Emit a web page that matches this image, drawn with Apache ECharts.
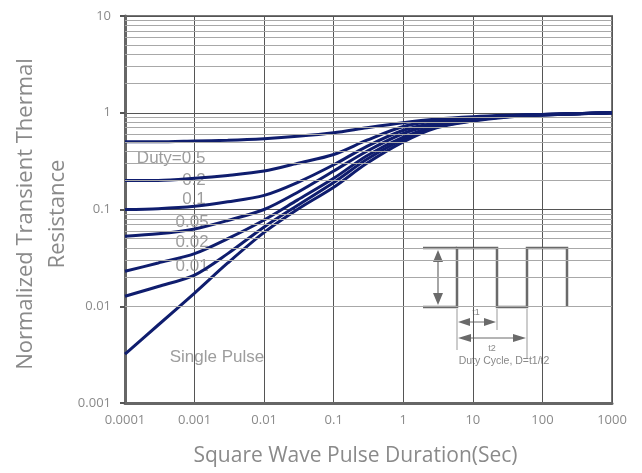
<!DOCTYPE html>
<html>
<head>
<meta charset="utf-8">
<script src="https://cdn.jsdelivr.net/npm/echarts@6/dist/echarts.min.js"></script>
<style>
  html, body { margin: 0; padding: 0; background: #fff; }
  #chart { width: 642px; height: 473px; }
</style>
</head>
<body>
<div id="chart"></div>
<script>
// pulse durations (sec)
var durations = [0.0001, 0.0003, 0.001, 0.003, 0.01, 0.03, 0.1, 0.3, 1, 3, 10, 30, 100, 1000];

// normalized transient thermal resistance per duty cycle
var duty05 = [0.50, 0.50, 0.51, 0.52, 0.54, 0.57, 0.62, 0.70, 0.79, 0.86, 0.91, 0.94, 0.96, 1.0];
var duty02 = [0.20, 0.20, 0.21, 0.225, 0.25, 0.30, 0.37, 0.52, 0.72, 0.83, 0.89, 0.93, 0.96, 1.0];
var duty01 = [0.10, 0.102, 0.108, 0.12, 0.14, 0.19, 0.29, 0.45, 0.66, 0.79, 0.88, 0.93, 0.96, 1.0];
var duty005 = [0.053, 0.056, 0.063, 0.077, 0.10, 0.15, 0.25, 0.40, 0.61, 0.76, 0.86, 0.92, 0.96, 1.0];
var duty002 = [0.023, 0.028, 0.035, 0.050, 0.078, 0.125, 0.21, 0.36, 0.56, 0.73, 0.84, 0.91, 0.95, 1.0];
var duty001 = [0.0127, 0.016, 0.021, 0.035, 0.066, 0.11, 0.19, 0.33, 0.53, 0.71, 0.83, 0.91, 0.95, 1.0];
var singlePulse = [0.0032, 0.0064, 0.0137, 0.028, 0.058, 0.10, 0.17, 0.30, 0.50, 0.70, 0.82, 0.90, 0.95, 1.0];

// curve labels: [x, y, text]
var curveLabels = [
    [0.00046, 0.34, 'Duty=0.5'],
    [0.00098, 0.2, '0.2'],
    [0.00098, 0.127, '0.1'],
    [0.00092, 0.0735, '0.05'],
    [0.00092, 0.046, '0.02'],
    [0.00092, 0.0258, '0.01'],
    [0.0021, 0.003, 'Single Pulse']
];

var decades = [0.001, 0.01, 0.1, 1];

var minorValues = [];
decades.forEach(function (d) {
    for (var k = 2; k <= 9; k++) {
        minorValues.push(+(k * d).toPrecision(2));
    }
});

function pairs(ys) {
    return durations.map(function (x, i) { return [x, ys[i]]; });
}

var curveColor = '#0f1d6e';

function curve(name, ys) {
    return {
        name: name,
        type: 'line',
        data: pairs(ys),
        smooth: 0.3,
        showSymbol: false,
        z: 4,
        lineStyle: { color: curveColor, width: 3 }
    };
}

var arrowGray = '#6a6a6a';

var myChart = echarts.init(document.getElementById('chart'));
myChart.setOption({
    animation: false,
    grid: {
        left: 125, right: 30, top: 16, bottom: 70,
        outerBoundsMode: 'none',
        containLabel: false,
        show: true, borderColor: '#777', borderWidth: 2, backgroundColor: '#fff'
    },
    xAxis: {
        type: 'log',
        logBase: 10,
        min: 0.0001,
        max: 1000,
        name: 'Square Wave Pulse Duration(Sec)',
        nameLocation: 'middle',
        nameGap: 43,
        nameTextStyle: { color: '#8a8a8a', fontSize: 21, fontFamily: 'Open Sans', padding: [0, 26, 0, 0] },
        axisLine: { show: true, onZero: false, lineStyle: { color: '#666', width: 3 } },
        axisTick: { show: false },
        axisLabel: {
            color: '#8a8a8a', fontSize: 13, fontFamily: 'Open Sans', margin: 11,
            formatter: function (v) { return String(+v.toPrecision(1)); }
        },
        splitLine: { show: true, lineStyle: { color: '#555', width: 1 } }
    },
    yAxis: {
        type: 'log',
        logBase: 10,
        min: 0.001,
        max: 10,
        axisLine: { show: true, onZero: false, lineStyle: { color: '#666', width: 3 } },
        axisTick: { show: true, length: 5, lineStyle: { color: '#555', width: 2 } },
        axisLabel: {
            color: '#8a8a8a', fontSize: 13, fontFamily: 'Open Sans', margin: 14,
            formatter: function (v) { return String(+v.toPrecision(1)); }
        },
        splitLine: { show: true, lineStyle: { color: '#555', width: 1 } }
    },
    series: [
        {
            name: 'minor',
            type: 'line',
            data: [],
            z: 1,
            markLine: {
                silent: true,
                symbol: 'none',
                animation: false,
                label: { show: false },
                lineStyle: { color: '#a8a8a8', width: 1, type: 'solid' },
                data: minorValues.map(function (v) { return { yAxis: v }; })
            }
        },
        {
            name: 'labels',
            type: 'scatter',
            data: curveLabels,
            symbolSize: 0,
            z: 3,
            label: {
                show: true,
                position: 'inside',
                color: '#858585',
                fontSize: 17,
                fontFamily: 'Liberation Sans',
                formatter: function (p) { return p.data[2]; }
            }
        },
        curve('Duty=0.5', duty05),
        curve('0.2', duty02),
        curve('0.1', duty01),
        curve('0.05', duty005),
        curve('0.02', duty002),
        curve('0.01', duty001),
        curve('Single Pulse', singlePulse)
    ],
    graphic: [
        {
            type: 'text',
            x: 42,
            y: 214,
            rotation: Math.PI / 2,
            style: {
                text: 'Normalized Transient Thermal\nResistance',
                fill: '#8a8a8a', fontSize: 22, fontFamily: 'Open Sans', lineHeight: 32,
                align: 'center', verticalAlign: 'middle'
            }
        },
        {
            type: 'group',
            z: 10,
            children: [
                { type: 'rect', shape: { x: 420, y: 238, width: 167, height: 137 }, style: { fill: '#fff' } },
                { type: 'polyline', shape: { points: [[423, 248], [457, 248]] }, style: { stroke: arrowGray, lineWidth: 2.5, fill: null } },
                {
                    type: 'polyline',
                    shape: { points: [[423, 307], [457, 307], [457, 248], [497, 248], [497, 307], [527, 307], [527, 248], [567, 248], [567, 307]] },
                    style: { stroke: arrowGray, lineWidth: 2.5, fill: null }
                },
                { type: 'line', shape: { x1: 438, y1: 256, x2: 438, y2: 299 }, style: { stroke: arrowGray, lineWidth: 1.2 } },
                { type: 'polygon', shape: { points: [[438, 250], [433, 262], [443, 262]] }, style: { fill: arrowGray } },
                { type: 'polygon', shape: { points: [[438, 305], [433, 293], [443, 293]] }, style: { fill: arrowGray } },
                { type: 'line', shape: { x1: 457, y1: 309, x2: 457, y2: 350 }, style: { stroke: '#999', lineWidth: 1 } },
                { type: 'line', shape: { x1: 497, y1: 309, x2: 497, y2: 330 }, style: { stroke: '#999', lineWidth: 1 } },
                { type: 'line', shape: { x1: 527, y1: 309, x2: 527, y2: 358 }, style: { stroke: '#999', lineWidth: 1 } },
                { type: 'line', shape: { x1: 462, y1: 322, x2: 492, y2: 322 }, style: { stroke: arrowGray, lineWidth: 1 } },
                { type: 'polygon', shape: { points: [[458, 322], [470, 318], [470, 326]] }, style: { fill: arrowGray } },
                { type: 'polygon', shape: { points: [[496, 322], [484, 318], [484, 326]] }, style: { fill: arrowGray } },
                { type: 'line', shape: { x1: 462, y1: 338, x2: 522, y2: 338 }, style: { stroke: arrowGray, lineWidth: 1 } },
                { type: 'polygon', shape: { points: [[458, 338], [471, 334], [471, 342]] }, style: { fill: arrowGray } },
                { type: 'polygon', shape: { points: [[526, 338], [513, 334], [513, 342]] }, style: { fill: arrowGray } },
                { type: 'text', style: { x: 476, y: 313, text: 't1', fill: '#888', fontSize: 9, align: 'center', verticalAlign: 'middle', fontFamily: 'Liberation Sans' } },
                { type: 'text', style: { x: 492, y: 349, text: 't2', fill: '#888', fontSize: 9, align: 'center', verticalAlign: 'middle', fontFamily: 'Liberation Sans' } },
                { type: 'text', style: { x: 504, y: 361, text: 'Duty Cycle, D=t1/t2', fill: '#888', fontSize: 10.5, align: 'center', verticalAlign: 'middle', fontFamily: 'Liberation Sans' } }
            ]
        }
    ]
});
</script>
</body>
</html>
